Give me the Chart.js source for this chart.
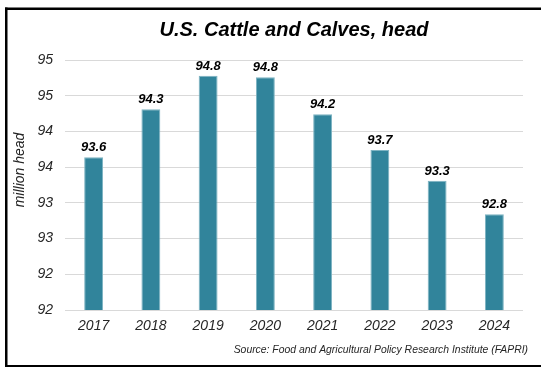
<!DOCTYPE html>
<html>
<head>
<meta charset="utf-8">
<script src="https://cdn.jsdelivr.net/npm/chart.js@4.4.1/dist/chart.umd.min.js"></script>
<style>
html, body { margin: 0; padding: 0; background: #fff; }
canvas { display: block; }
</style>
</head>
<body>
<canvas id="myChart" width="541" height="367"></canvas>
<script>
var years = ['2017', '2018', '2019', '2020', '2021', '2022', '2023', '2024'];
var cattleHead = [93.64, 94.31, 94.78, 94.76, 94.24, 93.74, 93.31, 92.84];
var yTickLabels = ['92', '92', '93', '93', '94', '94', '95', '95'];
var chartTitle = 'U.S. Cattle and Calves, head';
var yTitle = 'million head';
var sourceNote = 'Source: Food and Agricultural Policy Research Institute (FAPRI)';

var fontFamily = '"Liberation Sans", Arial, sans-serif';

// frame, title, value labels and source line
var decorPlugin = {
    id: 'decor',
    beforeDraw: function (chart) {
        var ctx = chart.ctx;
        ctx.save();
        ctx.fillStyle = '#ffffff';
        ctx.fillRect(0, 0, chart.width, chart.height);
        ctx.fillStyle = '#000000';
        ctx.fillRect(5, 7.5, 536, 2.5);
        ctx.fillRect(5, 7.5, 2.5, 359);
        ctx.fillRect(5, 365, 536, 2);
        ctx.restore();
    },
    afterDatasetsDraw: function (chart) {
        var ctx = chart.ctx;
        var meta = chart.getDatasetMeta(0);
        ctx.save();
        ctx.font = 'italic bold 13px ' + fontFamily;
        ctx.fillStyle = '#000000';
        ctx.textAlign = 'center';
        ctx.textBaseline = 'alphabetic';
        meta.data.forEach(function (bar, i) {
            ctx.fillText(cattleHead[i].toFixed(1), bar.x, bar.y - 6);
        });
        ctx.restore();
    },
    afterDraw: function (chart) {
        var ctx = chart.ctx;
        var area = chart.chartArea;
        ctx.save();
        ctx.fillStyle = '#000000';
        ctx.textAlign = 'center';
        ctx.textBaseline = 'middle';
        ctx.font = 'italic bold 20px ' + fontFamily;
        ctx.fillText(chartTitle, (area.left + area.right) / 2, 30);

        ctx.save();
        ctx.translate(20, 170);
        ctx.rotate(-Math.PI / 2);
        ctx.font = 'italic 14px ' + fontFamily;
        ctx.fillStyle = '#262626';
        ctx.fillText(yTitle, 0, 0);
        ctx.restore();

        ctx.font = 'italic 10.4px ' + fontFamily;
        ctx.fillStyle = '#262626';
        ctx.textAlign = 'right';
        ctx.fillText(sourceNote, 528, 350);
        ctx.restore();
    }
};

new Chart(document.getElementById('myChart').getContext('2d'), {
    type: 'bar',
    data: {
        labels: years,
        datasets: [{
            data: cattleHead,
            backgroundColor: '#31849b',
            borderColor: '#7db3c2',
            borderWidth: 1,
            barPercentage: 0.33,
            categoryPercentage: 1
        }]
    },
    options: {
        responsive: false,
        animation: false,
        layout: { padding: { top: 60, right: 18, bottom: 0, left: 0 } },
        plugins: {
            legend: { display: false },
            title: { display: false },
            tooltip: { enabled: false }
        },
        scales: {
            x: {
                grid: { display: false, drawTicks: false },
                border: { display: false },
                ticks: {
                    color: '#262626',
                    padding: 8,
                    maxRotation: 0,
                    font: { family: fontFamily, size: 14, style: 'italic' }
                },
                afterFit: function (scale) { scale.height = 57; }
            },
            y: {
                min: 91.5,
                max: 95,
                grid: { color: '#d9d9d9', drawTicks: false },
                border: { display: false },
                ticks: {
                    stepSize: 0.5,
                    padding: 12,
                    color: '#262626',
                    font: { family: fontFamily, size: 14, style: 'italic' },
                    callback: function (value, index) { return yTickLabels[index]; }
                },
                afterFit: function (scale) { scale.width = 65; }
            }
        }
    },
    plugins: [decorPlugin]
});
</script>
</body>
</html>
